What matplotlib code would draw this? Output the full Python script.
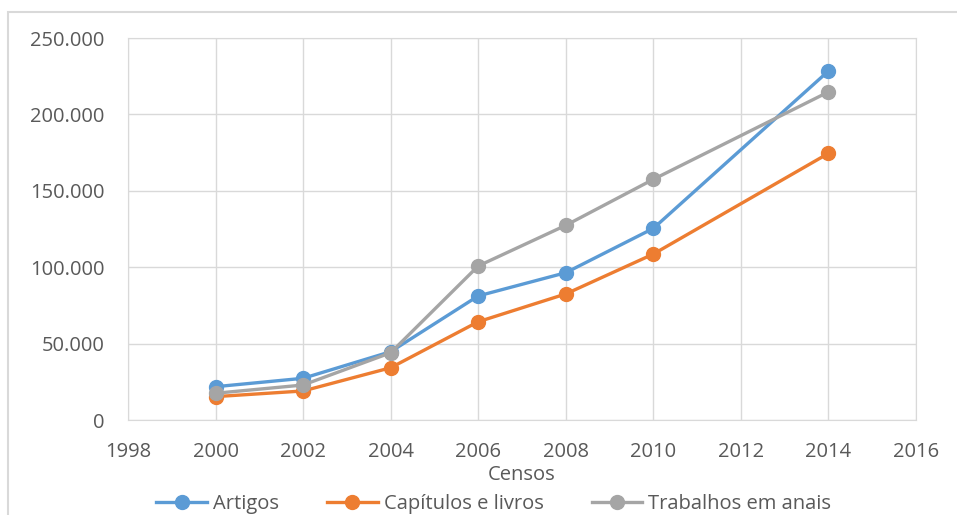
import matplotlib.pyplot as plt
from matplotlib.patches import Rectangle
from matplotlib.ticker import FuncFormatter

plt.rcParams['font.family'] = ['Open Sans', 'DejaVu Sans']

anos = [2000, 2002, 2004, 2006, 2008, 2010, 2014]
artigos = [21800, 27300, 44700, 81200, 96400, 125400, 228400]
capitulos = [15300, 19000, 34200, 64300, 82500, 108600, 174500]
trabalhos = [17500, 22900, 44000, 100800, 127400, 157500, 214700]

series = [
    ("Artigos", artigos, "#5B9BD5"),
    ("Capítulos e livros", capitulos, "#ED7D31"),
    ("Trabalhos em anais", trabalhos, "#A5A5A5"),
]

fig = plt.figure(figsize=(9.57, 5.15), dpi=100)
ax = fig.add_axes([128 / 957, 1 - 420 / 515, (916 - 128) / 957, (420 - 38) / 515])

# borda externa do gráfico
fig.patches.append(Rectangle((8 / 957, -0.1), 1.2, 1 - 12 / 515 + 0.1,
                             transform=fig.transFigure, fill=False,
                             edgecolor="#D9D9D9", linewidth=1.5))

for nome, vals, cor in series:
    ax.plot(anos, vals, color=cor, linewidth=2.4, marker="o", markersize=10,
            label=nome, zorder=3)

ax.set_xlim(1998, 2016)
ax.set_ylim(0, 250000)
ax.set_xticks(range(1998, 2017, 2))
ax.set_yticks(range(0, 250001, 50000))
ax.yaxis.set_major_formatter(FuncFormatter(lambda v, p: f"{int(v):,}".replace(",", ".")))
ax.grid(True, color="#D9D9D9", linewidth=1)
ax.set_axisbelow(True)
for s in ax.spines.values():
    s.set_color("#D9D9D9")
ax.tick_params(length=0, labelsize=14.5, colors="#595959")
ax.tick_params(axis="y", pad=17)
ax.tick_params(axis="x", pad=16)
ax.set_xlabel("Censos", fontsize=14.5, color="#595959", labelpad=2)

leg = fig.legend(loc="center", bbox_to_anchor=(0.516, 1 - 504 / 515), ncol=3,
                 frameon=False, fontsize=14.5, handlelength=2.5, columnspacing=2.4,
                 handletextpad=0.3, borderaxespad=0)
for t in leg.get_texts():
    t.set_color("#595959")

fig.savefig("out.png", dpi=100)
